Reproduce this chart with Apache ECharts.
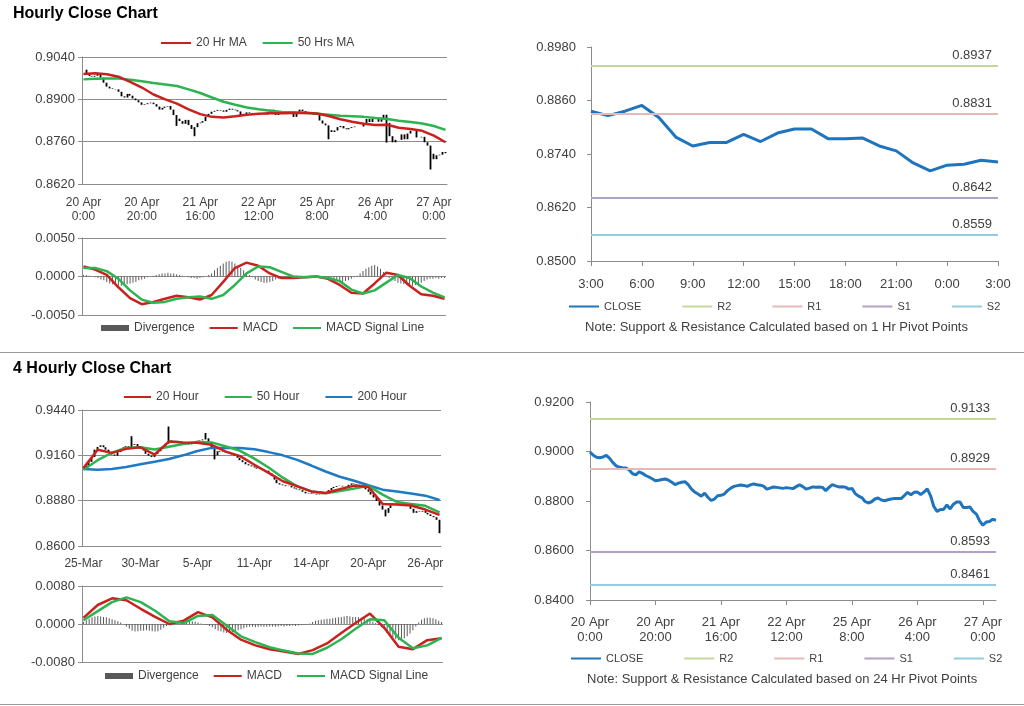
<!DOCTYPE html>
<html><head><meta charset="utf-8">
<script src="https://cdn.jsdelivr.net/npm/echarts@6/dist/echarts.min.js"></script>
<style>html,body{margin:0;padding:0;background:#fff}#c{width:1024px;height:706px}</style>
</head><body><div id="c"></div>
<script>
// ---------------- DATA ----------------
const hourTicks = ['20 Apr\n0:00','20 Apr\n20:00','21 Apr\n16:00','22 Apr\n12:00','25 Apr\n8:00','26 Apr\n4:00','27 Apr\n0:00'];
const fourHourTicks = ['25-Mar','30-Mar','5-Apr','11-Apr','14-Apr','20-Apr','26-Apr'];
const sessionHours = ['3:00','4:00','5:00','6:00','7:00','8:00','9:00','10:00','11:00','12:00','13:00','14:00','15:00','16:00','17:00','18:00','19:00','20:00','21:00','22:00','23:00','0:00','1:00','2:00','3:00'];

const hourlyClose = [
0.8998,0.8985,0.8977,0.8975,0.8978,0.8984,0.8972,0.8955,0.8942,0.8936,
0.8934,0.8933,0.8925,0.8910,0.8906,0.8918,0.8912,0.8903,0.8897,0.8890,
0.8882,0.8884,0.8887,0.8889,0.8884,0.8876,0.8866,0.8872,0.8876,0.8878,
0.8866,0.8848,0.8836,0.8828,0.8819,0.8832,0.8815,0.8802,0.8808,0.8821,
0.8823,0.8828,0.8842,0.8852,0.8859,0.8862,0.8865,0.8863,0.8859,0.8865,
0.8869,0.8866,0.8864,0.8860,0.8848,0.8852,0.8857,0.8855,0.8853,0.8851,
0.8854,0.8852,0.8850,0.8858,0.8866,0.8858,0.8848,0.8852,0.8857,0.8856,
0.8857,0.8855,0.8842,0.8855,0.8866,0.8861,0.8857,0.8858,0.8856,0.8848,
0.8851,0.8830,0.8820,0.8814,0.8798,0.8792,0.8797,0.8808,0.8812,0.8804,
0.8801,0.8805,0.8808,0.8810,0.8810,0.8810,0.8822,0.8835,0.8825,0.8835,
0.8836,0.8826,0.8836,0.8849,0.8822,0.8778,0.8758,0.8766,0.8766,0.8784,
0.8768,0.8787,0.8796,0.8796,0.8774,0.8774,0.8776,0.8758,0.8747,0.8720,
0.8702,0.8715,0.8717,0.8726,0.8722];
// visible long wicks on the hourly bars: [bar index, low]
const hourlyLowWicks = [[32, 0.8812], [38, 0.8778], [84, 0.8768], [104, 0.8757], [119, 0.8668]];
// moving averages / MACD of the hourly chart, read every 4 hours
const hourlyStep = 4;
const hourlyMA20 = [0.8984,0.8986,0.8983,0.8975,0.8958,0.8939,0.8916,0.8900,0.8886,0.8867,0.8851,0.8842,0.8840,0.8844,0.8849,0.8852,0.8854,0.8854,0.8855,0.8856,0.8853,0.8845,0.8834,0.8826,0.8819,0.8815,0.8816,0.8806,0.8802,0.8796,0.8780,0.8758];
const hourlyMA50 = [0.8966,0.8968,0.8969,0.8969,0.8965,0.8960,0.8954,0.8949,0.8944,0.8933,0.8921,0.8906,0.8892,0.8882,0.8873,0.8867,0.8862,0.8858,0.8857,0.8855,0.8852,0.8849,0.8846,0.8844,0.8842,0.8838,0.8835,0.8829,0.8825,0.8820,0.8812,0.8799];
const hourlyMACD = [0.0013,0.0009,0.0002,-0.0014,-0.0028,-0.0036,-0.0033,-0.0029,-0.0025,-0.0027,-0.0030,-0.0024,-0.0007,0.0011,0.0018,0.0014,0.0004,-0.0002,-0.0002,-0.0001,0.0000,-0.0003,-0.0011,-0.0021,-0.0022,-0.0009,0.0005,0.0002,-0.0012,-0.0023,-0.0025,-0.0029];
const hourlySignal = [0.0011,0.0011,0.0007,-0.0003,-0.0018,-0.0030,-0.0034,-0.0033,-0.0029,-0.0027,-0.0026,-0.0029,-0.0024,-0.0011,0.0004,0.0013,0.0012,0.0006,0.0000,-0.0001,0.0000,-0.0002,-0.0006,-0.0017,-0.0022,-0.0018,-0.0008,0.0002,-0.0002,-0.0013,-0.0021,-0.0027];
const hourlyDivergence = [
0.0002,0.0002,0.0001,0.0000,-0.0001,-0.0002,-0.0004,-0.0005,-0.0007,-0.0009,
-0.0010,-0.0011,-0.0012,-0.0012,-0.0011,-0.0010,-0.0009,-0.0008,-0.0007,-0.0005,
-0.0004,-0.0003,-0.0001,0.0000,0.0001,0.0002,0.0003,0.0004,0.0004,0.0005,
0.0004,0.0004,0.0003,0.0002,0.0001,0.0000,-0.0001,-0.0002,-0.0002,-0.0003,
-0.0002,-0.0001,0.0000,0.0002,0.0004,0.0008,0.0011,0.0014,0.0017,0.0019,
0.0020,0.0019,0.0017,0.0014,0.0011,0.0008,0.0005,0.0002,-0.0001,-0.0004,
-0.0006,-0.0007,-0.0008,-0.0008,-0.0007,-0.0006,-0.0004,-0.0003,-0.0002,-0.0001,
0.0000,0.0001,0.0001,0.0001,0.0000,0.0001,0.0001,0.0000,0.0001,0.0000,
0.0000,-0.0001,-0.0001,-0.0002,-0.0003,-0.0004,-0.0005,-0.0006,-0.0007,-0.0007,
-0.0006,-0.0005,-0.0003,-0.0001,0.0001,0.0004,0.0007,0.0010,0.0012,0.0014,
0.0015,0.0013,0.0010,0.0006,0.0001,-0.0002,-0.0004,-0.0006,-0.0008,-0.0009,
-0.0010,-0.0011,-0.0012,-0.0012,-0.0011,-0.0010,-0.0008,-0.0006,-0.0004,-0.0003,
-0.0003,-0.0002,-0.0003,-0.0002,-0.0002];

const sessionClose = [0.8836,0.8826,0.8836,0.8849,0.8822,0.8778,0.8758,0.8766,0.8766,0.8784,0.8768,0.8787,0.8796,0.8796,0.8774,0.8774,0.8776,0.8758,0.8747,0.8720,0.8702,0.8715,0.8717,0.8726,0.8722];
const pivotNames = ['R2','R1','S1','S2'];
const hourlyPivots = [0.8937,0.8831,0.8642,0.8559];
const dailyPivots = [0.9133,0.8929,0.8593,0.8461];

const fourHourClose = [
0.9085,0.9098,0.9120,0.9150,0.9195,0.9212,0.9222,0.9210,0.9195,0.9178,
0.9165,0.9158,0.9180,0.9200,0.9210,0.9216,0.9205,0.9225,0.9230,0.9215,
0.9200,0.9190,0.9170,0.9158,0.9150,0.9168,0.9185,0.9200,0.9215,0.9232,
0.9245,0.9252,0.9250,0.9246,0.9240,0.9232,0.9225,0.9228,0.9232,0.9240,
0.9250,0.9253,0.9258,0.9265,0.9240,0.9205,0.9160,0.9185,0.9180,0.9183,
0.9178,0.9172,0.9165,0.9158,0.9145,0.9130,0.9118,0.9105,0.9098,0.9092,
0.9085,0.9078,0.9075,0.9068,0.9065,0.9050,0.9035,0.9010,0.8988,0.8980,
0.8975,0.8970,0.8972,0.8962,0.8955,0.8950,0.8945,0.8935,0.8925,0.8928,
0.8924,0.8922,0.8918,0.8920,0.8928,0.8932,0.8945,0.8958,0.8965,0.8970,
0.8972,0.8968,0.8966,0.8978,0.8986,0.8983,0.8980,0.8978,0.8976,0.8950,
0.8935,0.8918,0.8900,0.8878,0.8850,0.8825,0.8805,0.8835,0.8852,0.8862,
0.8858,0.8860,0.8856,0.8858,0.8853,0.8830,0.8805,0.8815,0.8812,0.8816,
0.8805,0.8795,0.8785,0.8778,0.8762,0.8700];
// visible long wicks on the 4-hourly bars: [bar index, price]
const fourHourHighWicks = [[17, 0.9278], [30, 0.9338], [43, 0.9298]];
const fourHourLowWicks = [[46, 0.9135], [106, 0.8783], [125, 0.8679]];
// moving averages / MACD of the 4-hourly chart, read every 5 bars
const fourHourStep = 5;
const fourHourMA20 = [0.9081,0.9195,0.9175,0.9200,0.9210,0.9165,0.9245,0.9240,0.9237,0.9225,0.9183,0.9155,0.9102,0.9052,0.9000,0.8970,0.8937,0.8927,0.8951,0.8973,0.8965,0.8860,0.8857,0.8850,0.8825,0.8792];
const fourHourMA50 = [0.9071,0.9130,0.9176,0.9205,0.9210,0.9196,0.9213,0.9230,0.9243,0.9240,0.9215,0.9188,0.9140,0.9085,0.9022,0.8968,0.8937,0.8926,0.8939,0.8955,0.8972,0.8917,0.8872,0.8860,0.8848,0.8808];
const fourHourMA200 = [0.9076,0.9071,0.9075,0.9088,0.9105,0.9120,0.9137,0.9160,0.9187,0.9206,0.9206,0.9205,0.9198,0.9180,0.9160,0.9132,0.9097,0.9060,0.9028,0.9003,0.8975,0.8948,0.8936,0.8924,0.8911,0.8884];
const fourHourMACD = [0.0013,0.0040,0.0054,0.0050,0.0032,0.0015,0.0000,0.0007,0.0025,0.0014,-0.0012,-0.0033,-0.0045,-0.0053,-0.0058,-0.0063,-0.0055,-0.0041,-0.0019,0.0002,0.0022,-0.0008,-0.0048,-0.0053,-0.0034,-0.0030];
const fourHourSignal = [0.0008,0.0027,0.0046,0.0056,0.0046,0.0028,0.0006,0.0002,0.0017,0.0019,-0.0003,-0.0026,-0.0038,-0.0049,-0.0056,-0.0062,-0.0063,-0.0050,-0.0032,-0.0010,0.0010,0.0008,-0.0029,-0.0051,-0.0045,-0.0029];
const fourHourDivergence = [
0.0005,0.0008,0.0011,0.0014,0.0016,0.0017,0.0016,0.0015,0.0014,0.0012,
0.0010,0.0008,0.0006,0.0003,0.0000,-0.0005,-0.0010,-0.0014,-0.0016,-0.0015,
-0.0014,-0.0014,-0.0013,-0.0014,-0.0015,-0.0016,-0.0015,-0.0012,-0.0008,-0.0004,
-0.0001,0.0002,0.0005,0.0007,0.0008,0.0008,0.0008,0.0007,0.0006,0.0005,
0.0003,0.0001,-0.0001,-0.0002,-0.0004,-0.0007,-0.0011,-0.0014,-0.0016,-0.0018,
-0.0019,-0.0018,-0.0017,-0.0015,-0.0013,-0.0011,-0.0009,-0.0007,-0.0006,-0.0006,
-0.0007,-0.0006,-0.0005,-0.0006,-0.0006,-0.0005,-0.0005,-0.0006,-0.0005,-0.0004,
-0.0005,-0.0004,-0.0004,-0.0003,-0.0004,-0.0003,-0.0002,-0.0002,-0.0001,0.0001,
0.0004,0.0007,0.0008,0.0009,0.0010,0.0011,0.0011,0.0012,0.0013,0.0014,
0.0015,0.0016,0.0017,0.0016,0.0015,0.0015,0.0014,0.0013,0.0012,0.0010,
0.0008,0.0005,0.0002,-0.0002,-0.0007,-0.0012,-0.0018,-0.0023,-0.0028,-0.0032,
-0.0034,-0.0033,-0.0030,-0.0026,-0.0020,-0.0013,-0.0005,0.0003,0.0009,0.0012,
0.0013,0.0013,0.0012,0.0010,0.0007,0.0004];

// ---------------- STYLE ----------------
const FONT = '"Liberation Sans", Arial, sans-serif';
const TXT = '#404040';
const AX = '#8c8c8c';
const RED = '#c8211e', GREEN = '#2db350', BLUE = '#1f74bd', MABLUE = '#1f7ac4';
const pivotColors = ['#c4d79b','#e6b8b7','#b1a0c7','#93cddd'];

// helpers (place sparse readings on the hourly/bar grid)
function atEvery(values, step, count) {
  const out = new Array(count).fill(null);
  values.forEach((v, k) => { if (k * step < count) out[k * step] = v; });
  return out;
}
// bar from the previous close to this close, widened by any wick
function barsFromCloses(closes, lowWicks, highWicks) {
  const lows = {}, highs = {};
  (lowWicks || []).forEach(([i, v]) => { lows[i] = v; });
  (highWicks || []).forEach(([i, v]) => { highs[i] = v; });
  return closes.map((c, i) => {
    const o = i ? closes[i - 1] : c;
    let lo = Math.min(o, c), hi = Math.max(o, c);
    if (lows[i] != null) lo = Math.min(lo, lows[i]);
    if (highs[i] != null) hi = Math.max(hi, highs[i]);
    return [o, c, lo, hi];
  });
}
const nH = hourlyClose.length, nF = fourHourClose.length;
const hourIdx = hourlyClose.map((_, i) => i);
const fourIdx = fourHourClose.map((_, i) => i);

const lbl = (size, extra) => Object.assign({color: TXT, fontSize: size, fontFamily: FONT}, extra || {});
function yAxis(grid, min, max, interval, opts) {
  return Object.assign({
    type: 'value', gridIndex: grid, min, max, interval,
    axisLine: {show: true, lineStyle: {color: AX}},
    axisTick: {show: true, length: 4, lineStyle: {color: AX}},
    splitLine: {show: true, lineStyle: {color: AX, width: 1}},
    axisLabel: lbl(13, {margin: 7, formatter: v => v.toFixed(4)})
  }, opts || {});
}
function lineSeries(name, xi, data, color, width, extra) {
  return Object.assign({type: 'line', name, xAxisIndex: xi, yAxisIndex: xi, data, connectNulls: true,
    symbol: 'none', showSymbol: false, color, lineStyle: {color, width}, silent: true, z: 3}, extra || {});
}
function candle(xi, data) {
  return {type: 'candlestick', name: 'bars' + xi, xAxisIndex: xi, yAxisIndex: xi, data, barWidth: 1, silent: true,
    itemStyle: {color: '#000', color0: '#000', borderColor: '#000', borderColor0: '#000', borderWidth: 1.8}};
}
function divBars(xi, data) {
  return {type: 'bar', name: 'Divergence', xAxisIndex: xi, yAxisIndex: xi, data, barWidth: 1, color: '#5a5a5a',
    itemStyle: {color: '#5a5a5a'}, silent: true, z: 1};
}
function pivotSeries(xi, values) {
  return pivotNames.map((name, k) => ({
    type: 'line', name, xAxisIndex: xi, yAxisIndex: xi, data: [], color: pivotColors[k],
    lineStyle: {color: pivotColors[k], width: 2}, symbol: 'none',
    markLine: {silent: true, symbol: 'none', animation: false, precision: 4,
      lineStyle: {color: pivotColors[k], width: 2, type: 'solid'},
      label: lbl(13, {position: 'insideEndTop', distance: [6, 4], formatter: p => Number(p.value).toFixed(4)}),
      data: [{yAxis: values[k]}]},
    z: 2
  }));
}
const legendBase = (size) => ({orient: 'horizontal', padding: 0, selectedMode: false,
  textStyle: lbl(size), itemStyle: {opacity: 0}});

const option = {
  animation: false,
  backgroundColor: '#fff',
  title: [
    {text: 'Hourly Close Chart', left: 13, top: 6, padding: 0, textStyle: {fontSize: 16, fontWeight: 'bold', color: '#000', fontFamily: FONT}},
    {text: '4 Hourly Close Chart', left: 13, top: 361, padding: 0, textStyle: {fontSize: 16, fontWeight: 'bold', color: '#000', fontFamily: FONT}},
    {text: 'Note: Support & Resistance Calculated based on 1 Hr Pivot Points', left: 585, top: 321, padding: 0, textStyle: lbl(13, {fontWeight: 'normal'})},
    {text: 'Note: Support & Resistance Calculated based on 24 Hr Pivot Points', left: 587, top: 673, padding: 0, textStyle: lbl(13, {fontWeight: 'normal'})}
  ],
  graphic: [
    {type: 'line', shape: {x1: 0, y1: 352.5, x2: 1024, y2: 352.5}, style: {stroke: '#9a9a9a', lineWidth: 1}},
    {type: 'line', shape: {x1: 0, y1: 704.5, x2: 1024, y2: 704.5}, style: {stroke: '#9a9a9a', lineWidth: 1}}
  ],
  legend: [
    Object.assign(legendBase(12), {data: ['20 Hr MA', '50 Hrs MA'], left: 160, top: 37, itemWidth: 30, itemHeight: 8, itemGap: 15}),
    Object.assign(legendBase(12), {data: [{name: 'Divergence', icon: 'rect', itemStyle: {opacity: 1, color: '#595959'}}, 'MACD', 'MACD Signal Line'], left: 101, top: 322, itemWidth: 28, itemHeight: 6, itemGap: 14}),
    Object.assign(legendBase(11), {data: ['CLOSE', 'R2', 'R1', 'S1', 'S2'], left: 568, top: 301, itemWidth: 30, itemHeight: 8, itemGap: 40}),
    Object.assign(legendBase(12), {data: ['20 Hour', '50 Hour', '200 Hour'], left: 123, top: 391, itemWidth: 27, itemHeight: 8, itemGap: 25}),
    Object.assign(legendBase(12), {data: [{name: 'Divergence', icon: 'rect', itemStyle: {opacity: 1, color: '#595959'}}, 'MACD', 'MACD Signal Line'], left: 105, top: 670, itemWidth: 28, itemHeight: 6, itemGap: 14}),
    Object.assign(legendBase(11), {data: ['CLOSE', 'R2', 'R1', 'S1', 'S2'], left: 570, top: 653, itemWidth: 30, itemHeight: 8, itemGap: 40})
  ],
  grid: [
    {left: 82, top: 57, width: 365, height: 127},
    {left: 82, top: 238, width: 364, height: 77},
    {left: 591, top: 47, width: 407, height: 214},
    {left: 82, top: 410, width: 359, height: 136},
    {left: 82, top: 586, width: 361, height: 76},
    {left: 590, top: 402, width: 406, height: 198}
  ],
  xAxis: [
    {type: 'category', gridIndex: 0, data: hourIdx, boundaryGap: true,
      axisLine: {lineStyle: {color: AX}}, axisTick: {interval: 19, length: 5, lineStyle: {color: AX}},
      axisLabel: lbl(12, {interval: 19, margin: 12, lineHeight: 14, formatter: (v, i) => hourTicks[i / 20] || ''})},
    {type: 'category', gridIndex: 1, data: hourIdx, boundaryGap: true,
      axisLine: {show: false}, axisTick: {show: false}, axisLabel: {show: false}},
    {type: 'category', gridIndex: 2, data: sessionHours, boundaryGap: false,
      axisLine: {lineStyle: {color: AX}}, axisTick: {interval: 2, length: 5, lineStyle: {color: AX}},
      axisLabel: lbl(13, {interval: 2, margin: 17})},
    {type: 'category', gridIndex: 3, data: fourIdx, boundaryGap: true,
      axisLine: {lineStyle: {color: AX}}, axisTick: {interval: 19, length: 5, lineStyle: {color: AX}},
      axisLabel: lbl(12, {interval: 19, margin: 12, formatter: (v, i) => fourHourTicks[i / 20] || ''})},
    {type: 'category', gridIndex: 4, data: fourIdx, boundaryGap: true,
      axisLine: {show: false}, axisTick: {show: false}, axisLabel: {show: false}},
    {type: 'category', gridIndex: 5, data: hourIdx, boundaryGap: false,
      axisLine: {lineStyle: {color: AX}}, axisTick: {interval: 19, length: 5, lineStyle: {color: AX}},
      axisLabel: lbl(13, {interval: 19, margin: 15, lineHeight: 15, formatter: (v, i) => hourTicks[i / 20] || ''})}
  ],
  yAxis: [
    yAxis(0, 0.862, 0.904, 0.014),
    yAxis(1, -0.005, 0.005, 0.005),
    yAxis(2, 0.850, 0.898, 0.012, {splitLine: {show: false}, axisLabel: lbl(13, {margin: 15, formatter: v => v.toFixed(4)})}),
    yAxis(3, 0.860, 0.944, 0.028),
    yAxis(4, -0.008, 0.008, 0.008),
    yAxis(5, 0.840, 0.920, 0.020, {splitLine: {show: false}, axisLabel: lbl(13, {margin: 16, formatter: v => v.toFixed(4)})})
  ],
  series: [
    candle(0, barsFromCloses(hourlyClose, hourlyLowWicks, [])),
    lineSeries('50 Hrs MA', 0, atEvery(hourlyMA50, hourlyStep, nH), GREEN, 2.5),
    lineSeries('20 Hr MA', 0, atEvery(hourlyMA20, hourlyStep, nH), RED, 2.5),
    divBars(1, hourlyDivergence),
    lineSeries('MACD', 1, atEvery(hourlyMACD, hourlyStep, nH), RED, 2.5),
    lineSeries('MACD Signal Line', 1, atEvery(hourlySignal, hourlyStep, nH), GREEN, 2.5),
    ...pivotSeries(2, hourlyPivots),
    lineSeries('CLOSE', 2, sessionClose, BLUE, 3, {z: 4}),
    candle(3, barsFromCloses(fourHourClose, fourHourLowWicks, fourHourHighWicks)),
    lineSeries('200 Hour', 3, atEvery(fourHourMA200, fourHourStep, nF), MABLUE, 2.5),
    lineSeries('50 Hour', 3, atEvery(fourHourMA50, fourHourStep, nF), GREEN, 2.5),
    lineSeries('20 Hour', 3, atEvery(fourHourMA20, fourHourStep, nF), RED, 2.5),
    divBars(4, fourHourDivergence),
    lineSeries('MACD', 4, atEvery(fourHourMACD, fourHourStep, nF), RED, 2.5),
    lineSeries('MACD Signal Line', 4, atEvery(fourHourSignal, fourHourStep, nF), GREEN, 2.5),
    ...pivotSeries(5, dailyPivots),
    lineSeries('CLOSE', 5, hourlyClose, BLUE, 3, {z: 4})
  ]
};
const chart = echarts.init(document.getElementById('c'), null, {renderer: 'canvas'});
chart.setOption(option);
</script>
</body></html>
